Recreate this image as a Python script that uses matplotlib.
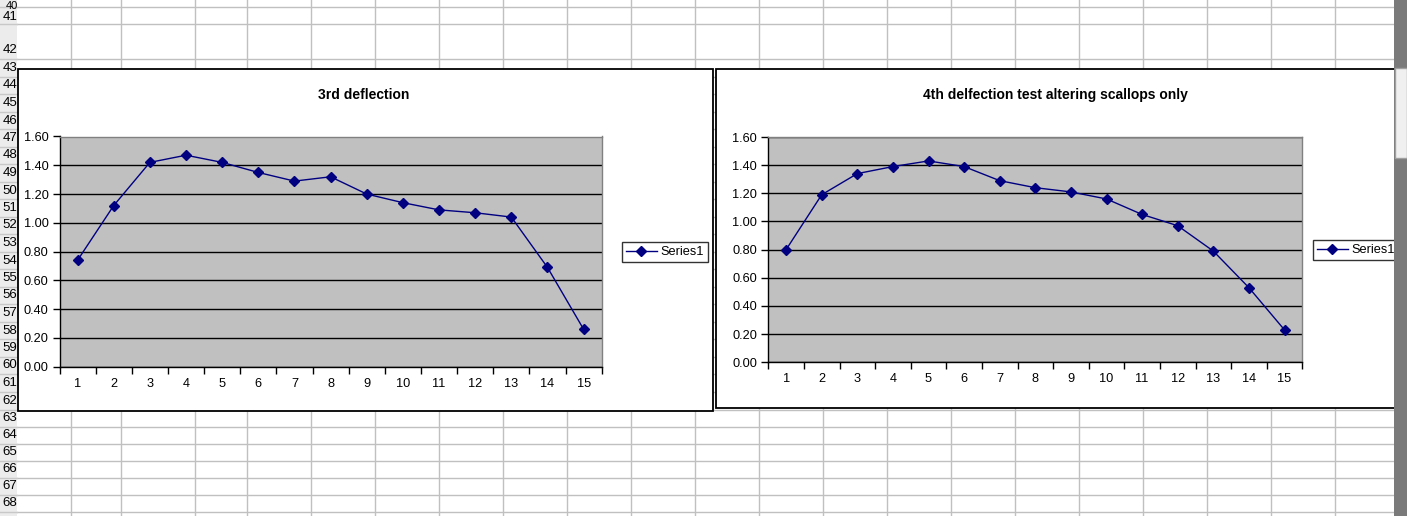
import matplotlib
matplotlib.use("Agg")
import matplotlib.pyplot as plt
from matplotlib.lines import Line2D
from matplotlib.patches import Rectangle
from matplotlib.ticker import FixedLocator, FormatStrFormatter

plt.rcParams['font.family'] = ['Liberation Sans', 'DejaVu Sans']

# ---- data ----
categories = list(range(1, 16))
deflection3 = [0.74, 1.12, 1.42, 1.47, 1.42, 1.35, 1.29, 1.32, 1.20, 1.14, 1.09, 1.07, 1.04, 0.69, 0.26]
deflection4 = [0.80, 1.19, 1.34, 1.39, 1.43, 1.39, 1.29, 1.24, 1.21, 1.16, 1.05, 0.97, 0.79, 0.53, 0.23]
title3 = "3rd deflection"
title4 = "4th delfection test altering scallops only"
series_name = "Series1"
y_ticks = [0.0, 0.2, 0.4, 0.6, 0.8, 1.0, 1.2, 1.4, 1.6]

W, H = 1407, 516
fig = plt.figure(figsize=(W / 100, H / 100), dpi=100)
fig.patch.set_facecolor("white")


def fx(x):
    return x / W


def fy(y):
    return 1 - y / H


grid_col = "#c0c0c0"
# spreadsheet column lines
col_x = [70.7, 120.5, 194.6, 247.0, 310.7, 374.7, 438.7, 502.7, 566.7, 630.7, 694.7,
         758.7, 822.7, 886.7, 950.7, 1014.7, 1078.7, 1142.7, 1206.7, 1270.7, 1334.7]
for x in col_x:
    fig.add_artist(Line2D([fx(x), fx(x)], [0, 1], color=grid_col, lw=1, zorder=-3))
# spreadsheet row lines
row_y = [7.3, 24.3, 59.3] + [59.3 + 17.5 * i for i in range(1, 20)] + [409.7, 426.7, 443.7, 460.7, 477.7, 494.7, 511.7]
for y in row_y:
    fig.add_artist(Line2D([fx(17), 1], [fy(y), fy(y)], color=grid_col, lw=1, zorder=-3))

# row header
fig.add_artist(Rectangle((0, 0), fx(17), 1, facecolor="#ececec", edgecolor="none", zorder=-2.5))
for y in row_y:
    fig.add_artist(Line2D([0, fx(17)], [fy(y), fy(y)], color="#c8c8c8", lw=1, zorder=-2.4))
fig.text(fx(17.5), fy(1), "40", ha="right", va="top", fontsize=8, color="black", zorder=-2.3)
row_labels = {41: 16.5, 42: 50}
for n in range(43, 63):
    row_labels[n] = 68 + 17.5 * (n - 43)
for i, n in enumerate(range(63, 69)):
    row_labels[n] = 418 + 17 * i
for n, y in row_labels.items():
    fig.text(fx(17.5), fy(y), str(n), ha="right", va="center", fontsize=9.5, color="black", zorder=-2.3)

# chart boxes
fig.add_artist(Rectangle((fx(18), fy(411)), fx(713 - 18), (411 - 69) / H,
                         facecolor="white", edgecolor="black", lw=1.3, zorder=-1))
fig.add_artist(Rectangle((fx(716), fy(407.5)), fx(1400 - 716), (407.5 - 69) / H,
                         facecolor="white", edgecolor="black", lw=1.3, zorder=-1))

fig.text(fx(364), fy(95), title3, ha="center", va="center", fontsize=10, fontweight="bold")
fig.text(fx(1055), fy(95), title4, ha="center", va="center", fontsize=10, fontweight="bold")


def make_chart(rect, values, legend_xy):
    l, t, r, b = rect
    ax = fig.add_axes([fx(l), fy(b), fx(r - l), (b - t) / H])
    ax.set_facecolor("#c0c0c0")
    ax.plot(categories, values, color="#000080", lw=1, marker="D", markersize=5,
            markerfacecolor="#000080", markeredgecolor="#000080", label=series_name, zorder=3)
    ax.set_xlim(0.5, 15.5)
    ax.set_ylim(0, 1.6)
    ax.yaxis.set_major_locator(FixedLocator(y_ticks))
    ax.yaxis.set_major_formatter(FormatStrFormatter("%.2f"))
    ax.set_xticks([c + 0.5 for c in [0] + categories])
    ax.set_xticklabels([])
    ax.set_xticks(categories, minor=True)
    ax.set_xticklabels([str(c) for c in categories], minor=True)
    ax.tick_params(axis="x", which="major", direction="out", length=5, width=1, color="black")
    ax.tick_params(axis="x", which="minor", length=0, pad=8, labelsize=9.2)
    ax.tick_params(axis="y", direction="out", length=5, width=1, labelsize=9.2, pad=3)
    ax.grid(axis="y", which="major", color="black", lw=1)
    ax.set_axisbelow(True)
    for s in ["top", "right"]:
        ax.spines[s].set_color("#808080")
        ax.spines[s].set_linewidth(1)
    for s in ["left", "bottom"]:
        ax.spines[s].set_color("black")
        ax.spines[s].set_linewidth(1)
    leg = ax.legend(loc="center left", bbox_to_anchor=(fx(legend_xy[0]), fy(legend_xy[1])),
                    bbox_transform=fig.transFigure, frameon=True, fancybox=False,
                    fontsize=9.2, handlelength=2.4, handletextpad=0.3, borderpad=0.3,
                    borderaxespad=0)
    leg.get_frame().set_edgecolor("black")
    leg.get_frame().set_linewidth(1)
    return ax


make_chart((59.5, 136.5, 601.7, 366.7), deflection3, (622, 252))
make_chart((768.3, 137, 1302.3, 362.3), deflection4, (1313, 250))

# scrollbar on the right
fig.add_artist(Rectangle((fx(1394), 0), fx(W - 1394), 1, facecolor="#7a7a7a",
                         edgecolor="none", zorder=10))
fig.add_artist(Rectangle((fx(1395), fy(158)), fx(W - 1395), (158 - 68) / H,
                         facecolor="#f0f0f0", edgecolor="#a0a0a0", lw=1, zorder=11))

fig.savefig("out.png", dpi=100)
